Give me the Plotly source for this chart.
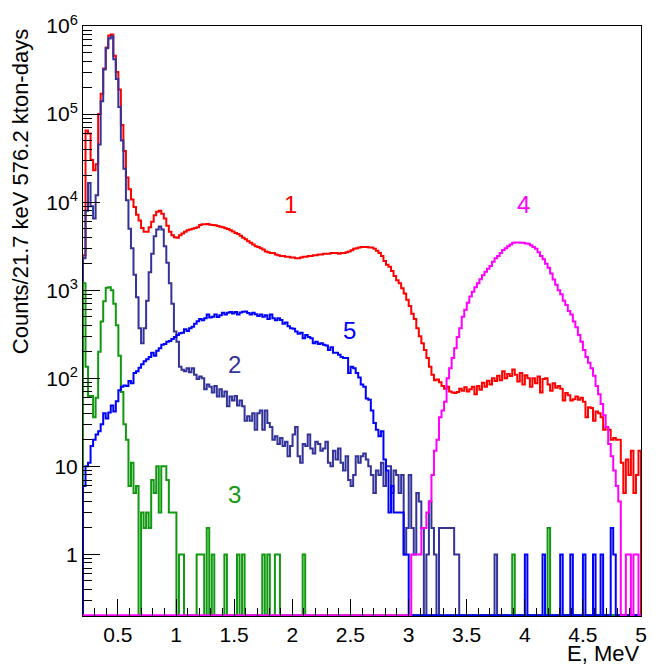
import numpy as np
import plotly.graph_objects as go

# ---------------- data (counts per 21.7 keV bin, 221 bins from 0.2 to 5.0 MeV) ----------------
E_MIN, E_MAX, N_BINS = 0.2, 5.0, 221

spec1_red = [
    2500, 65000, 60000, 30000, 23000, 27000, 100000, 170000, 330000, 570000,
    780000, 800000, 460000, 300000, 190000, 75000, 38000, 19000, 14000, 10700,
    8800, 7200, 6200, 5100, 4600, 4600, 5200, 6000, 7100, 7800,
    8000, 7400, 6500, 5400, 4600, 4200, 4000, 3950, 4200, 4400,
    4600, 4800, 4900, 5000, 5100, 5200, 5500, 5600, 5600, 5650,
    5550, 5500, 5450, 5350, 5250, 5200, 5050, 4950, 4800, 4650,
    4450, 4350, 4150, 3950, 3800, 3600, 3450, 3300, 3150, 3100,
    3000, 2900, 2750, 2700, 2650, 2650, 2550, 2500, 2450, 2450,
    2400, 2400, 2350, 2350, 2300, 2300, 2350, 2400, 2400, 2450,
    2450, 2500, 2500, 2550, 2550, 2600, 2600, 2600, 2650, 2650,
    2650, 2600, 2650, 2650, 2700, 2750, 2850, 2950, 3000, 3050,
    3100, 3100, 3100, 3050, 3050, 2950, 2800, 2650, 2450, 2150,
    1950, 1850, 1650, 1450, 1300, 1200, 1050, 920, 780, 660,
    540, 470, 370, 300, 250, 210, 170, 135, 110, 95,
    97, 90, 82, 76, 80, 71, 69, 68, 70, 76,
    72, 79, 71, 75, 80, 66, 82, 74, 89, 80,
    94, 85, 100, 93, 107, 95, 120, 100, 112, 106,
    126, 110, 92, 115, 85, 108, 100, 80, 100, 88,
    105, 69, 98, 100, 85, 72, 88, 78, 82, 76,
    56, 68, 64, 56, 58, 62, 57, 60, 54, 36,
    47, 46, 33, 42, 40, 36, 26, 28, 26, 20,
    21, 20, 20, 11, 5, 12, 8, 15, 5, 8,
    15,
]

spec2_navy = [
    2300, 8000, 16500, 9000, 6500, 12000, 45000, 140000, 320000, 560000,
    720000, 760000, 420000, 250000, 120000, 50000, 24000, 10500, 5000, 3000,
    1500, 830, 370, 250, 370, 760, 1600, 2600, 4100, 4900,
    5300, 4900, 3150, 2050, 1200, 700, 340, 260, 135, 125,
    120, 130, 117, 130, 110, 98, 105, 100, 75, 85,
    80, 69, 82, 62, 75, 62, 71, 48, 62, 56,
    63, 49, 56, 48, 33, 37, 33, 40, 26, 40,
    43, 26, 43, 31, 28, 20, 22, 18, 21, 17,
    19, 13, 17, 23, 28, 13, 11, 18, 17, 23,
    16, 14, 19, 18, 15, 16, 19, 11, 10, 15,
    12, 16, 11, 9, 13, 7, 6, 8, 13, 11,
    13, 14, 12, 10, 8, 5, 9, 8, 11, 6,
    10, 10, 5, 9, 8, 5, 8, 1, 2, 8,
    2, 1, 5, 4, 2, 0, 1, 4, 2, 1,
    0, 2, 2, 2, 2, 2, 2, 1, 1, 0,
    0, 0, 0, 0, 0, 0, 0, 0, 0, 0,
    0, 0, 0, 1, 0, 0, 0, 0, 0, 0,
    0, 0, 0, 0, 0, 0, 0, 0, 0, 0,
    0, 0, 0, 0, 0, 0, 0, 0, 0, 0,
    0, 0, 0, 0, 0, 0, 0, 0, 0, 0,
    0, 0, 0, 0, 0, 0, 0, 0, 0, 0,
    0, 0, 0, 0, 0, 0, 0, 0, 0, 0,
    0,
]

spec3_green = [
    1200, 135, 63, 63, 36, 60, 200, 440, 750, 1070,
    1080, 1000, 700, 400, 180, 70, 30, 20, 6, 11,
    5, 6, 0, 3, 2, 3, 2, 7, 5, 10,
    3, 10, 10, 7, 3, 3, 3, 0, 1, 1,
    0, 0, 0, 0, 0, 1, 1, 1, 0, 2,
    0, 1, 0, 0, 0, 0, 1, 0, 0, 0,
    0, 1, 0, 1, 0, 0, 0, 0, 0, 0,
    0, 1, 0, 1, 0, 0, 1, 1, 0, 0,
    0, 0, 0, 0, 0, 0, 0, 1, 0, 0,
    0, 0, 0, 0, 0, 0, 0, 0, 0, 0,
    0, 0, 0, 0, 0, 0, 0, 0, 0, 0,
    0, 0, 0, 0, 0, 0, 0, 0, 0, 0,
    0, 0, 0, 0, 0, 0, 0, 0, 0, 0,
    0, 0, 0, 0, 0, 0, 0, 0, 0, 0,
    0, 0, 0, 0, 0, 0, 0, 0, 0, 0,
    0, 0, 0, 0, 0, 0, 0, 0, 0, 0,
    0, 0, 0, 0, 0, 0, 0, 0, 0, 0,
    1, 0, 0, 0, 0, 0, 0, 0, 0, 0,
    0, 0, 0, 0, 2, 0, 0, 0, 0, 0,
    0, 0, 0, 0, 0, 0, 0, 0, 0, 0,
    0, 0, 0, 0, 0, 0, 0, 0, 0, 0,
    0, 0, 0, 0, 0, 0, 0, 0, 0, 0,
    0,
]

spec5_blue = [
    6, 10, 11, 17, 20, 23, 25, 30, 40, 35,
    41, 49, 42, 55, 73, 80, 83, 82, 93, 88,
    115, 120, 132, 144, 156, 165, 175, 195, 180, 205,
    220, 240, 245, 260, 265, 280, 295, 310, 325, 330,
    360, 345, 370, 385, 415, 445, 470, 455, 480, 530,
    490, 500, 530, 495, 520, 555, 530, 555, 565, 545,
    565, 530, 560, 570, 575, 550, 530, 555, 535, 510,
    530, 500, 520, 470, 530, 480, 455, 480, 460, 415,
    430, 390, 370, 365, 340, 320, 330, 285, 310, 295,
    285, 250, 260, 245, 250, 240, 235, 210, 225, 195,
    195, 185, 175, 170, 170, 115, 135, 130, 115, 102,
    85, 80, 59, 57, 43, 31, 26, 22, 25, 12,
    9, 3, 6, 3, 3, 3, 3, 1, 1, 0,
    0, 0, 0, 0, 0, 0, 0, 0, 0, 0,
    0, 0, 0, 0, 0, 0, 0, 0, 0, 0,
    0, 0, 0, 0, 0, 0, 0, 0, 0, 0,
    0, 0, 0, 0, 0, 0, 0, 0, 0, 0,
    0, 0, 0, 0, 0, 1, 0, 0, 0, 0,
    0, 0, 1, 0, 0, 0, 0, 0, 0, 1,
    0, 0, 0, 1, 0, 0, 0, 0, 1, 0,
    0, 0, 1, 0, 0, 1, 0, 0, 0, 2,
    1, 0, 0, 0, 0, 0, 0, 0, 0, 0,
    0,
]

spec4_magenta = [0] * 130 + [
    1, 1, 1, 1, 2, 2, 3, 4, 8, 15,
    20, 36, 43, 54, 100, 130, 170, 220, 295, 370,
    500, 600, 720, 850, 960, 1080, 1200, 1330, 1480, 1620,
    1750, 1880, 2100, 2300, 2450, 2650, 2870, 3000, 3150, 3300,
    3460, 3480, 3480, 3460, 3450, 3400, 3370, 3250, 3100, 2950,
    2700, 2450, 2250, 2000, 1800, 1550, 1320, 1150, 1000, 900,
    760, 680, 580, 530, 440, 380, 310, 260, 210, 175,
    150, 130, 107, 82, 66, 51, 38, 28, 18, 13,
    9, 6, 4, 0, 0, 1, 1, 0, 1, 1,
    0,
]

x_tick_labels = ["0.5", "1", "1.5", "2", "2.5", "3", "3.5", "4", "4.5", "5"]
y_tick_labels = ["1", "10", "10<sup>2</sup>", "10<sup>3</sup>", "10<sup>4</sup>",
                 "10<sup>5</sup>", "10<sup>6</sup>"]

curve_labels = ["1", "2", "3", "4", "5"]
label_E = [1.983, 1.50, 1.50, 3.99, 2.49]
label_counts = [9300, 145, 4.8, 9300, 350]

# ---------------- styling ----------------
C_RED, C_NAVY, C_GREEN, C_BLUE, C_MAG = "#ff0000", "#333399", "#119911", "#0000ff", "#ff00ff"
FONT = "Liberation Sans, Arial, Helvetica, sans-serif"
Y_MIN = 0.2
Y_FLOOR = 0.204  # zero bins drawn on the frame bottom (ROOT style)

edges = np.linspace(E_MIN, E_MAX, N_BINS + 1)


def step_xy(vals):
    v = [c if c > 0 else Y_FLOOR for c in vals]
    x = [edges[0]] + list(edges[:-1]) + [edges[-1], edges[-1]]
    y = [Y_FLOOR] + v + [v[-1], Y_FLOOR]
    return x, y


fig = go.Figure()
for vals, col in [(spec1_red, C_RED), (spec2_navy, C_NAVY), (spec3_green, C_GREEN),
                  (spec5_blue, C_BLUE), (spec4_magenta, C_MAG)]:
    x, y = step_xy(vals)
    fig.add_trace(go.Scatter(x=x, y=y, mode="lines", line=dict(color=col, width=2, shape="hv"),
                             hoverinfo="skip", showlegend=False))

label_cols = [C_RED, C_NAVY, C_GREEN, C_MAG, C_BLUE]
for t, xe, yc, col in zip(curve_labels, label_E, label_counts, label_cols):
    fig.add_annotation(x=xe, y=np.log10(yc), xref="x", yref="y", text=t, showarrow=False,
                       font=dict(family=FONT, size=24, color=col), xanchor="center", yanchor="middle")

x_major = [0.5 * k for k in range(1, 11)]
x_minor = [round(0.2 + 0.1 * k, 3) for k in range(0, 49)]
x_minor = [v for v in x_minor if abs(v / 0.5 - round(v / 0.5)) > 1e-6]
y_major = [10 ** k for k in range(0, 7)]
y_minor = [m * 10 ** k for k in range(-1, 6) for m in range(2, 10) if m * 10 ** k >= 0.2]

fig.update_layout(
    width=659, height=666,
    margin=dict(l=83, r=18, t=16, b=50),
    paper_bgcolor="white", plot_bgcolor="white",
    font=dict(family=FONT, size=21, color="black"),
    xaxis=dict(range=[E_MIN, E_MAX], showgrid=False, zeroline=False,
               showline=True, linecolor="black", linewidth=1, mirror=True,
               ticks="inside", ticklen=17, tickwidth=1, tickcolor="black",
               tickmode="array", tickvals=x_major, ticktext=x_tick_labels,
               tickfont=dict(family=FONT, size=21, color="black"),
               minor=dict(tickmode="array", tickvals=x_minor, ticks="inside", ticklen=8,
                          tickwidth=1, tickcolor="black", showgrid=False)),
    yaxis=dict(type="log", range=[np.log10(Y_MIN), 6], showgrid=False, zeroline=False,
               showline=True, linecolor="black", linewidth=1, mirror=True,
               ticks="inside", ticklen=17, tickwidth=1, tickcolor="black",
               tickmode="array", tickvals=y_major, ticktext=y_tick_labels,
               tickfont=dict(family=FONT, size=21, color="black"),
               minor=dict(tickmode="array", tickvals=y_minor, ticks="inside", ticklen=9,
                          tickwidth=1, tickcolor="black", showgrid=False)),
)

fig.add_annotation(x=1.0, y=-0.064, xref="paper", yref="paper", text="E, MeV", showarrow=False,
                   xanchor="right", yanchor="middle", font=dict(family=FONT, size=22, color="black"))
fig.add_annotation(x=-0.113, y=0.72, xref="paper", yref="paper",
                   text="Counts/21.7 keV 576.2 kton-days", showarrow=False, textangle=-90,
                   xanchor="center", yanchor="middle", font=dict(family=FONT, size=22, color="black"))

fig.write_html("out.html", config={"displayModeBar": False},
               post_script="document.body.style.margin='0';document.body.style.padding='0';"
                           "document.body.style.overflow='hidden';")
